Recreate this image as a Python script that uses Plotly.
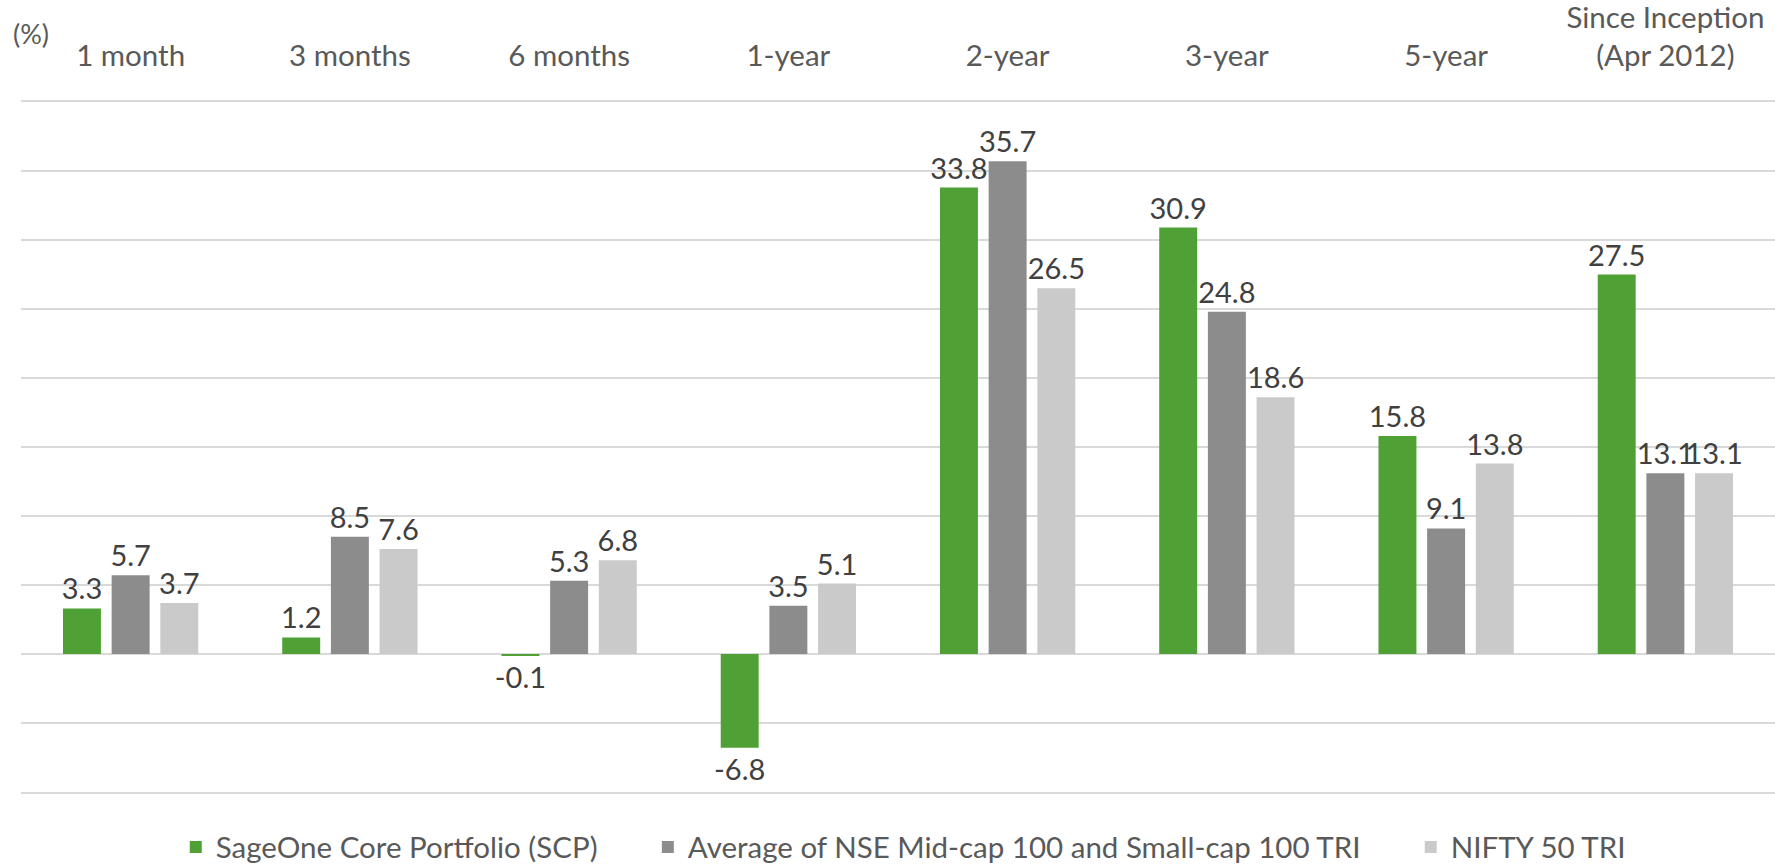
import plotly.graph_objects as go

categories = ["1 month", "3 months", "6 months", "1-year", "2-year", "3-year", "5-year",
              "Since Inception<br>(Apr 2012)"]
scp = [3.3, 1.2, -0.1, -6.8, 33.8, 30.9, 15.8, 27.5]
midsmall = [5.7, 8.5, 5.3, 3.5, 35.7, 24.8, 9.1, 13.1]
nifty = [3.7, 7.6, 6.8, 5.1, 26.5, 18.6, 13.8, 13.1]
series_names = ["SageOne Core Portfolio (SCP)",
                "Average of NSE Mid-cap 100 and Small-cap 100 TRI",
                "NIFTY 50 TRI"]
colors = ["#50A135", "#8C8C8C", "#CACACA"]

FONT = "Lato"
PAD = "\u00a0" * 6
fig = go.Figure()
for i, (name, vals, col) in enumerate(zip(series_names, [scp, midsmall, nifty], colors)):
    fig.add_trace(go.Bar(
        x=categories, y=vals, name=name + (PAD if i < 2 else ""),
        marker=dict(color=col, line=dict(width=0)),
        text=[f"{v:.1f}" for v in vals],
        textposition="outside",
        textfont=dict(family=FONT, size=29, color="#404040"),
        cliponaxis=False,
        constraintext="none",
    ))

fig.update_layout(
    width=1775, height=867,
    margin=dict(l=21, r=0, t=102, b=75, autoexpand=False),
    paper_bgcolor="white", plot_bgcolor="white",
    barmode="group", bargap=0.334, bargroupgap=0.22,
    font=dict(family=FONT, size=29, color="#595959"),
    showlegend=True,
    legend=dict(orientation="h", x=0.503, xanchor="center", y=-0.08, yanchor="middle",
                font=dict(family=FONT, size=29.5, color="#595959"),
                itemwidth=30, traceorder="normal"),
    xaxis=dict(side="top", showgrid=False, zeroline=False,
               showline=True, mirror=True, linecolor="#D9D9D9", linewidth=2,
               ticks="outside", ticklen=22, tickcolor="rgba(0,0,0,0)",
               tickfont=dict(family=FONT, size=29.5, color="#595959")),
    yaxis=dict(range=[-10, 40], dtick=5, showgrid=True, gridcolor="#D9D9D9", gridwidth=2,
               zeroline=True, zerolinecolor="#D9D9D9", zerolinewidth=2,
               showticklabels=False, showline=False),
    annotations=[dict(text="(%)", x=0, y=1, xref="paper", yref="paper", xshift=-10, yshift=69,
                      xanchor="left", yanchor="middle", showarrow=False,
                      font=dict(family=FONT, size=27, color="#595959"))],
)

fig.write_html("out.html")
